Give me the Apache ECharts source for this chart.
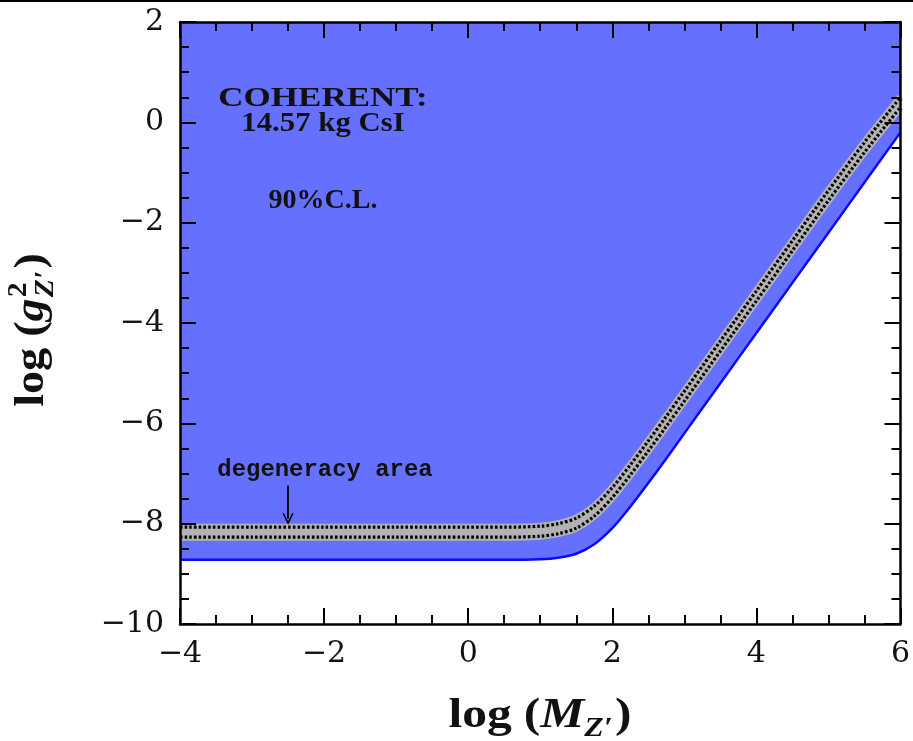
<!DOCTYPE html>
<html><head><meta charset="utf-8">
<script src="https://cdn.jsdelivr.net/npm/echarts@6/dist/echarts.min.js"></script>
<style>html,body{margin:0;padding:0;background:#fff}#c{width:913px;height:741px}</style>
</head><body><div id="c"></div>
<script>
// ---- data ----
const massLog    = [-4, -3, -2, -1, 0, 0.5, 1, 1.25, 1.5, 1.75, 2, 2.25, 2.5, 2.75, 3, 3.5, 4, 4.5, 5, 5.5, 6];
const limitLog   = [-8.72, -8.72, -8.72, -8.72, -8.72, -8.72, -8.71, -8.68, -8.60, -8.41, -8.09, -7.66, -7.19, -6.70, -6.20, -5.20, -4.20, -3.20, -2.20, -1.20, -0.20];
const degenUpper = [-8.07, -8.07, -8.07, -8.07, -8.07, -8.07, -8.05, -8.00, -7.89, -7.65, -7.28, -6.83, -6.35, -5.86, -5.36, -4.36, -3.36, -2.36, -1.36, -0.40, 0.50];
const degenLower = [-8.27, -8.27, -8.27, -8.27, -8.27, -8.27, -8.25, -8.20, -8.09, -7.85, -7.48, -7.03, -6.55, -6.06, -5.56, -4.56, -3.56, -2.56, -1.56, -0.60, 0.30];
const xTickValues = [-4, -2, 0, 2, 4, 6];
const yTickValues = [-10, -8, -6, -4, -2, 0, 2];
const arrowFrom = [-2.5, -7.24];
const arrowTo   = [-2.5, -7.90];
const annotations = ['COHERENT:', '14.57 kg CsI', '90%C.L.', 'degeneracy area'];

// ---- styles ----
const BLUE_FILL = '#6670ff';
const BLUE_LINE = '#0a0aff';
const GREY = '#b3b3b3';
const INK = '#111';
const SERIF = '"Liberation Serif", "DejaVu Serif", serif';

const chart = echarts.init(document.getElementById('c'), null, {renderer: 'canvas'});
const pts = arr => massLog.map((x, i) => [x, arr[i]]);
const fmt = v => (v < 0 ? '\u2212' + Math.abs(v) : String(v));

const mctx = document.createElement('canvas').getContext('2d');
function tw(font, s) { mctx.font = font; return mctx.measureText(s).width; }
function fnt(style, size) { return style + ' ' + size + 'px ' + SERIF; }
function txt(t, font, size, x, base, align) {
  return {type: 'text', x: x, y: base - 0.34 * size,
    style: {text: t, font: font, fill: INK, textAlign: align || 'left', verticalAlign: 'middle', textVerticalAlign: 'middle'}};
}

function buildMassTitle() {
  const S = 42, s = 27;
  const fB = fnt('bold', S), fI = fnt('italic bold', S), fs = fnt('italic bold', s);
  const c = []; let x = 0;
  c.push(txt('log', fB, S, x, 0)); x += tw(fB, 'log') + 10;
  c.push(txt('(', fB, S, x, 0)); x += tw(fB, '(');
  c.push(txt('M', fI, S, x, 0)); x += tw(fI, 'M');
  c.push(txt('Z\u2032', fs, s, x, 8)); x += tw(fs, 'Z\u2032') + 2;
  c.push(txt(')', fB, S, x, 0)); x += tw(fB, ')');
  return {children: c, width: x};
}
function buildCouplingTitle() {
  const S = 42, s = 27;
  const fB = fnt('bold', S), fI = fnt('italic bold', S), fsB = fnt('bold', s), fsI = fnt('italic bold', s);
  const c = []; let x = 0;
  c.push(txt('log', fB, S, x, 0)); x += tw(fB, 'log') + 10;
  c.push(txt('(', fB, S, x, 0)); x += tw(fB, '(');
  c.push(txt('g', fI, S, x, 0)); x += tw(fI, 'g') + 1;
  c.push(txt('2', fsB, s, x, -18));
  c.push(txt('Z\u2032', fsI, s, x, 9));
  x += Math.max(tw(fsB, '2'), tw(fsI, 'Z\u2032')) + 2;
  c.push(txt(')', fB, S, x, 0)); x += tw(fB, ')');
  return {children: c, width: x};
}
const mt = buildMassTitle();
const ct = buildCouplingTitle();
const MT_SCALE = 1.18, CT_SCALE = 1.1;

const axisCommon = {
  type: 'value', z: 10,
  axisLine: {show: true, onZero: false, lineStyle: {color: '#000', width: 2.5}},
  axisTick: {show: true, inside: true, length: 16, lineStyle: {color: '#000', width: 2}},
  minorTick: {show: true, splitNumber: 4, length: 9, lineStyle: {color: '#000', width: 2}},
  splitLine: {show: false}, minorSplitLine: {show: false}
};
const labelStyle = {fontFamily: '"DejaVu Serif", serif', fontSize: 30, color: INK, formatter: fmt};

const base = {type: 'line', symbol: 'none', showSymbol: false, smooth: 0.3, silent: true, animation: false};
const dotted = {color: '#000', width: 3.2, type: [2.6, 2.1], cap: 'butt'};

chart.setOption({
  animation: false,
  grid: {left: 180, right: 10, top: 22, bottom: 117, show: true, backgroundColor: BLUE_FILL, borderWidth: 0},
  xAxis: [
    Object.assign({}, axisCommon, {position: 'bottom', min: xTickValues[0], max: xTickValues[xTickValues.length - 1], interval: 2,
      axisLabel: Object.assign({}, labelStyle, {margin: 15})}),
    Object.assign({}, axisCommon, {position: 'top', min: xTickValues[0], max: xTickValues[xTickValues.length - 1], interval: 2,
      axisLabel: {show: false}})
  ],
  yAxis: [
    Object.assign({}, axisCommon, {position: 'left', min: yTickValues[0], max: yTickValues[yTickValues.length - 1], interval: 2,
      axisLabel: Object.assign({}, labelStyle, {margin: 16})}),
    Object.assign({}, axisCommon, {position: 'right', min: yTickValues[0], max: yTickValues[yTickValues.length - 1], interval: 2,
      axisLabel: {show: false}})
  ],
  series: [
    Object.assign({}, base, {data: pts(degenUpper), lineStyle: {width: 0}, areaStyle: {origin: 'start', color: GREY, opacity: 1}}),
    Object.assign({}, base, {data: pts(degenLower), lineStyle: {width: 0}, areaStyle: {origin: 'start', color: BLUE_FILL, opacity: 1}}),
    Object.assign({}, base, {data: pts(limitLog), lineStyle: {color: BLUE_LINE, width: 2.5}, areaStyle: {origin: 'start', color: '#ffffff', opacity: 1}}),
    Object.assign({}, base, {data: pts(degenUpper), lineStyle: {color: GREY, width: 7}}),
    Object.assign({}, base, {data: pts(degenLower), lineStyle: {color: GREY, width: 7}}),
    Object.assign({}, base, {data: pts(degenUpper), lineStyle: dotted}),
    Object.assign({}, base, {data: pts(degenLower), lineStyle: dotted,
      markLine: {silent: true, animation: false, symbol: ['none', 'path://M5,0 L10,10 L8.9,10.9 L5,3.2 L1.1,10.9 L0,10 Z'], symbolSize: [11, 12],
        label: {show: false}, lineStyle: {color: '#000', width: 1.8, type: 'solid'},
        data: [[{coord: arrowFrom}, {coord: arrowTo}]]}})
  ],
  graphic: [
    {type: 'rect', shape: {x: 0, y: 0, width: 913, height: 2}, style: {fill: '#000'}, z: 100},
    {type: 'group', x: 540 - mt.width * MT_SCALE / 2, y: 730, scaleX: MT_SCALE, children: mt.children, z: 100},
    {type: 'group', x: 46, y: 330 + ct.width * CT_SCALE / 2, rotation: Math.PI / 2, scaleX: CT_SCALE, children: ct.children, z: 100},
    Object.assign(txt(annotations[0], fnt('bold', 28), 28, 323, 108, 'center'), {scaleX: 1.25, z: 100}),
    Object.assign(txt(annotations[1], fnt('bold', 28), 28, 323, 133, 'center'), {scaleX: 1.1, z: 100}),
    Object.assign(txt(annotations[2], fnt('bold', 28), 28, 323, 210, 'center'), {scaleX: 1.0, z: 100}),
    Object.assign(txt(annotations[3], 'bold 23px "Liberation Mono", monospace', 23, 325, 478, 'center'), {scaleX: 1.04, z: 100})
  ]
});
</script></body></html>
